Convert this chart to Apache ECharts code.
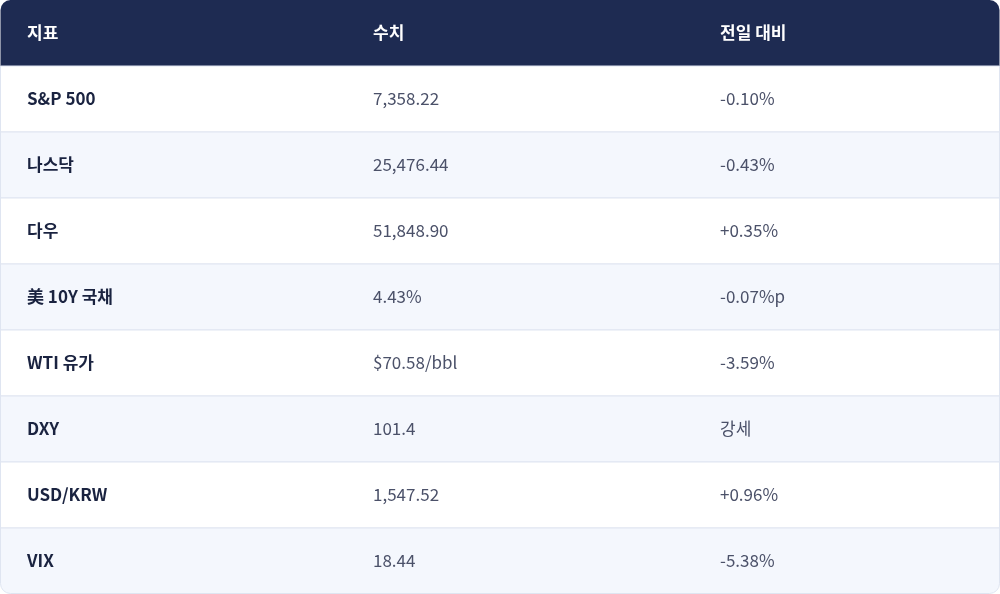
<!DOCTYPE html>
<html><head><meta charset="utf-8">
<script src="https://cdn.jsdelivr.net/npm/echarts@6/dist/echarts.min.js"></script>
<style>html,body{margin:0;padding:0;background:#fff}#c{width:1000px;height:594px}</style>
</head><body><div id="c"></div>
<script>
const headers = ['지표', '수치', '전일 대비'];
const indicators = ['S&P 500', '나스닥', '다우', '美 10Y 국채', 'WTI 유가', 'DXY', 'USD/KRW', 'VIX'];
const values = ['7,358.22', '25,476.44', '51,848.90', '4.43%', '$70.58/bbl', '101.4', '1,547.52', '18.44'];
const changes = ['-0.10%', '-0.43%', '+0.35%', '-0.07%p', '-3.59%', '강세', '+0.96%', '-5.38%'];

const colX = [27, 373, 720];
const font = '"Noto Sans CJK KR", "Noto Sans", sans-serif';

const rows = [headers].concat(indicators.map((n, i) => [n, values[i], changes[i]]));
const cells = [];
rows.forEach((r, i) => r.forEach((t, j) => cells.push([colX[j], i, t, j])));

const chart = echarts.init(document.getElementById('c'));
chart.setOption({
  animation: false,
  grid: { left: 0, right: 0, top: 0, bottom: 0 },
  xAxis: { type: 'value', min: 0, max: 1000, show: false },
  yAxis: { type: 'value', min: 0, max: rows.length, inverse: true, show: false },
  series: [
    {
      type: 'custom',
      data: rows.map((r, i) => [i]),
      renderItem(params, api) {
        const i = api.value(0);
        const p0 = api.coord([0, i]);
        const p1 = api.coord([1000, i + 1]);
        const h = p1[1] - p0[1];
        const last = i === rows.length - 1;
        const fill = i === 0 ? '#1e2b52' : (i % 2 === 0 ? '#f4f7fd' : '#ffffff');
        const r = i === 0 ? [10, 10, 0, 0] : (last ? [0, 0, 10, 10] : 0);
        const children = [{
          type: 'rect',
          shape: { x: p0[0] + 0.5, y: p0[1], width: p1[0] - p0[0] - 1, height: h - (last ? 0.5 : 0), r },
          style: { fill, stroke: i === 0 ? null : '#dfe5f1', lineWidth: 1 }
        }];
        return { type: 'group', children };
      }
    },
    {
      type: 'custom',
      data: cells,
      renderItem(params, api) {
        const x = api.value(0), i = api.value(1), j = api.value(3);
        const t = cells[params.dataIndex][2];
        const p = api.coord([x, i + 0.5]);
        return {
          type: 'text',
          x: p[0], y: p[1],
          style: {
            text: t,
            fontFamily: font,
            fontSize: 17,
            fontWeight: i === 0 || j === 0 ? 'bold' : 'normal',
            fill: i === 0 ? '#ffffff' : (j === 0 ? '#1a2340' : '#4b5169'),
            verticalAlign: 'middle',
            align: 'left'
          }
        };
      }
    }
  ]
});
</script></body></html>
